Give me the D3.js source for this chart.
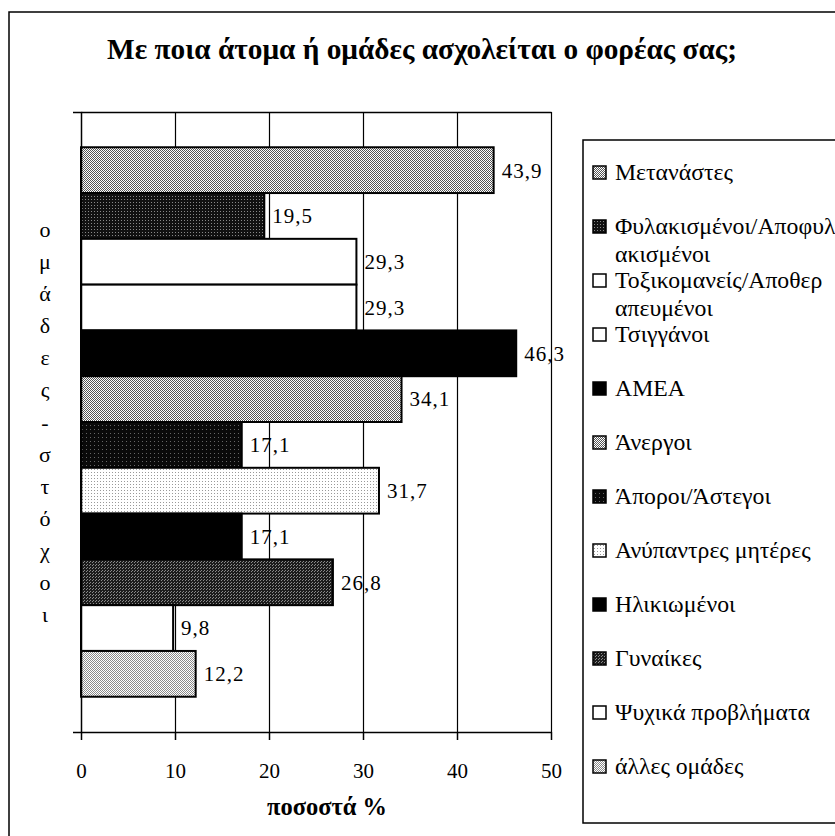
<!DOCTYPE html>
<html>
<head>
<meta charset="utf-8">
<script src="https://cdn.jsdelivr.net/npm/d3@7"></script>
<style>
  body { margin: 0; background: #fff; }
  svg, svg text { font-family: "Liberation Serif", "Times New Roman", Times, "DejaVu Serif", serif; }
</style>
</head>
<body>
<div id="chart"></div>
<script>

let categories = ['Μετανάστες', 'Φυλακισμένοι/Αποφυλακισμένοι', 'Τοξικομανείς/Αποθεραπευμένοι', 'Τσιγγάνοι',
	'ΑΜΕΑ', 'Άνεργοι', 'Άποροι/Άστεγοι', 'Ανύπαντρες μητέρες', 'Ηλικιωμένοι', 'Γυναίκες',
	'Ψυχικά προβλήματα', 'άλλες ομάδες'];
let values = [43.9, 19.5, 29.3, 29.3, 46.3, 34.1, 17.1, 31.7, 17.1, 26.8, 9.8, 12.2];
let xTicks = [0, 10, 20, 30, 40, 50];
let title = 'Με ποια άτομα ή ομάδες ασχολείται ο φορέας σας;';
let xTitle = 'ποσοστά %';
let yTitle = 'ομάδες-στόχοι';

let width = 835;
let height = 836;
let plot = {left: 81, right: 551, top: 112, bottom: 732};
let serif = '"Liberation Serif", "Times New Roman", Times, "DejaVu Serif", serif';

// fill for each bar, by position (dithered greys like the scan)
let fills = ['url(#gray)', 'url(#dark)', '#fff', '#fff', '#000', 'url(#gray)',
	'url(#dark2)', 'url(#speck)', '#000', 'url(#mid)', '#fff', 'url(#light)'];

let svg = d3.select('#chart')
	.append('svg')
	.attr('width', width)
	.attr('height', height)
	.attr('font-family', serif);

// scale a text's font size so that it is w pixels wide
function fitWidth(sel, w){
	let size = +sel.attr('font-size');
	let len = sel.node().getComputedTextLength();
	sel.attr('font-size', (size * w / len).toFixed(2));
	return +sel.attr('font-size');
}

// dither patterns
let defs = svg.append('defs');
function dither(id, bg, fg, size, dots){
	let p = defs.append('pattern')
		.attr('id', id)
		.attr('patternUnits', 'userSpaceOnUse')
		.attr('width', size)
		.attr('height', size);
	p.append('rect').attr('width', size).attr('height', size).attr('fill', bg);
	dots.forEach(d => {
		p.append('rect').attr('x', d[0]).attr('y', d[1]).attr('width', 1).attr('height', 1)
			.attr('fill', fg).attr('shape-rendering', 'crispEdges');
	});
}
dither('gray', '#fff', '#555', 2, [[0,0],[1,1]]);
dither('light', '#fff', '#8a8a8a', 2, [[0,0],[1,1]]);
dither('dark', '#111', '#888', 3, [[1,1]]);
dither('dark2', '#0a0a0a', '#666', 4, [[2,1]]);
dither('mid', '#1c1c1c', '#8a8a8a', 3, [[0,0],[2,1]]);
dither('speck', '#fff', '#999', 3, [[1,1]]);

// outer frame
svg.append('rect')
	.attr('x', 9).attr('y', 12)
	.attr('width', 840).attr('height', 840)
	.attr('fill', 'none').attr('stroke', '#000').attr('stroke-width', 1.5);

let t = svg.append('text')
	.attr('x', 422).attr('y', 59)
	.attr('text-anchor', 'middle')
	.attr('font-weight', 'bold')
	.attr('font-size', 24)
	.text(title);
fitWidth(t, 630);

let x = d3.scaleLinear().domain([0, 50]).range([plot.left, plot.right]);
let y = d3.scaleBand().domain(categories).range([plot.top, plot.bottom])
	.paddingInner(0).paddingOuter(0.77);

let fmt = d3.formatLocale({decimal: ',', thousands: '.', grouping: [3], currency: ['', '€']}).format('.1f');

// gridlines
svg.append('g')
	.attr('transform', `translate(0,${plot.bottom})`)
	.call(d3.axisBottom(x).tickValues(xTicks.slice(1)).tickSize(-(plot.bottom - plot.top)).tickFormat(''))
	.call(g => g.select('.domain').remove())
	.selectAll('line').attr('stroke', '#000').attr('stroke-width', 1.2);

// bars
svg.append('g')
	.selectAll('rect')
	.data(values)
	.join('rect')
	.attr('x', x(0))
	.attr('y', (d, i) => y(categories[i]))
	.attr('width', d => x(d) - x(0))
	.attr('height', y.bandwidth())
	.attr('fill', (d, i) => fills[i])
	.attr('stroke', '#000')
	.attr('stroke-width', 2);

// value labels
svg.append('g')
	.selectAll('text')
	.data(values)
	.join('text')
	.attr('x', d => x(d) + 8)
	.attr('y', (d, i) => y(categories[i]) + y.bandwidth() / 2)
	.attr('dy', '0.35em')
	.attr('font-size', 21)
	.attr('letter-spacing', 1)
	.text(d => fmt(d));

// x axis
let xAxis = svg.append('g')
	.attr('transform', `translate(0,${plot.bottom})`)
	.call(d3.axisBottom(x).tickValues(xTicks).tickSize(8).tickSizeOuter(0).tickPadding(23).tickFormat(d3.format('d')));
xAxis.attr('font-family', serif).attr('font-size', 21);
xAxis.selectAll('line, path').attr('stroke', '#000').attr('stroke-width', 1.5);
xAxis.selectAll('text').attr('fill', '#000');

// top border of plot
svg.append('g')
	.attr('transform', `translate(0,${plot.top})`)
	.call(d3.axisTop(x).tickValues([]).tickSizeOuter(0))
	.select('.domain').attr('stroke', '#000').attr('stroke-width', 1.5);

// y axis (single category, ticks at ends)
svg.append('g')
	.attr('transform', `translate(${plot.left},0)`)
	.call(d3.axisLeft(y).tickValues([]).tickSizeOuter(8))
	.select('.domain').attr('stroke', '#000').attr('stroke-width', 1.5);

let xt = svg.append('text')
	.attr('x', 327).attr('y', 815)
	.attr('text-anchor', 'middle')
	.attr('font-weight', 'bold')
	.attr('font-size', 19)
	.text(xTitle);
fitWidth(xt, 120);

// vertical stacked y title
let ly = d3.scalePoint().domain(d3.range(yTitle.length)).range([237, 622]);
svg.append('g')
	.selectAll('text')
	.data(Array.from(yTitle))
	.join('text')
	.attr('x', 45)
	.attr('y', (d, i) => ly(i))
	.attr('text-anchor', 'middle')
	.attr('font-size', 22)
	.text(d => d);

// legend
svg.append('rect')
	.attr('x', 583).attr('y', 140)
	.attr('width', 300).attr('height', 683)
	.attr('fill', '#fff').attr('stroke', '#000').attr('stroke-width', 1.5);

// legend font size taken from one full-width entry
let probe = svg.append('text').attr('font-size', 20).text(categories[10]);
let legendSize = fitWidth(probe, 195);
probe.remove();

let ls = d3.scalePoint().domain(categories).range([172, 766]);
let legend = svg.append('g')
	.selectAll('g')
	.data(categories)
	.join('g')
	.attr('transform', d => `translate(593,${ls(d)})`);

legend.append('rect')
	.attr('x', 0).attr('y', -6)
	.attr('width', 13).attr('height', 13)
	.attr('fill', (d, i) => fills[i])
	.attr('stroke', '#000').attr('stroke-width', 1.5);

legend.append('text')
	.attr('font-size', legendSize)
	.selectAll('tspan')
	.data(d => d.length > 19 ? [d.slice(0, 19), d.slice(19)] : [d])
	.join('tspan')
	.attr('x', 22)
	.attr('y', (d, i) => i * 28)
	.attr('dy', '0.35em')
	.text(d => d);

</script>
</body>
</html>
